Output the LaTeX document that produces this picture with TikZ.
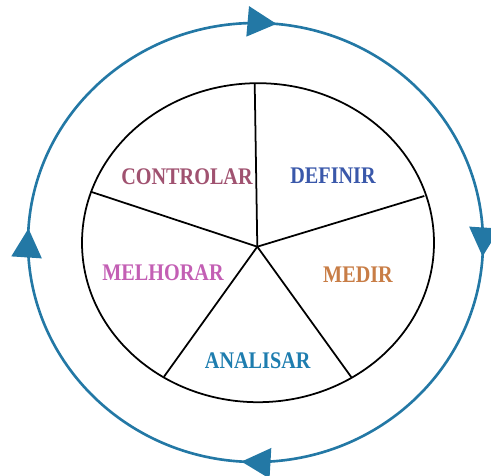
\documentclass[tikz,border=0pt]{standalone}
\usepackage{fontspec}
\setmainfont{Liberation Serif}
\usepackage{xcolor}
\usepackage{graphicx}
\usetikzlibrary{arrows.meta,decorations.markings}
\definecolor{cycleblue}{RGB}{35,120,165}
\definecolor{ctrlcol}{RGB}{160,82,112}
\definecolor{defcol}{RGB}{58,88,170}
\definecolor{melcol}{RGB}{195,95,180}
\definecolor{medcol}{RGB}{200,125,70}
\definecolor{anacol}{RGB}{30,125,175}
\newcommand{\phasetext}[1]{\scalebox{1}[1.18]{#1}}

\begin{document}
\begin{tikzpicture}[x=0.02cm, y=0.02cm,
  phase/.style={font=\bfseries\fontsize{11.5}{12}\selectfont, inner sep=0pt},
  spoke/.style={line width=1pt, black},
  cycle/.style={line width=1.5pt, color=cycleblue, postaction={decorate},
    decoration={markings,
      mark=at position 0.015 with {\arrow{Triangle[length=0.58cm,width=0.6cm]}},
      mark=at position 0.26 with {\arrow{Triangle[length=0.58cm,width=0.6cm]}},
      mark=at position 0.51 with {\arrow{Triangle[length=0.58cm,width=0.6cm]}},
      mark=at position 0.76 with {\arrow{Triangle[length=0.58cm,width=0.6cm]}}}}
]
\useasboundingbox (0,0) rectangle (491,476);
% outer cycle, clockwise
\draw[cycle] (255.5,453) arc[start angle=90, end angle=-270, x radius=227.5, y radius=219.5];
% inner pie
\draw[line width=1pt] (258,233.3) ellipse[x radius=176, y radius=159.5];
\coordinate (hub) at (257.3,229.3);
\coordinate (eTop) at (254.7,392.7);
\coordinate (eRight) at (424.3,280);
\coordinate (eLowR) at (351.7,98.3);
\coordinate (eLowL) at (164,99.3);
\coordinate (eLeft) at (90.7,284.3);
\draw[spoke] (hub)--(eTop);\draw[spoke] (hub)--(eRight);\draw[spoke] (hub)--(eLowR);
\draw[spoke] (hub)--(eLowL);\draw[spoke] (hub)--(eLeft);
% phase labels
\node[phase, text=ctrlcol] (ctrl) at (187,299.3) {\phasetext{CONTROLAR}};
\node[phase, text=defcol]  (def)  at (333,300.3) {\phasetext{DEFINIR}};
\node[phase, text=melcol]  (mel)  at (163,203)   {\phasetext{MELHORAR}};
\node[phase, text=medcol]  (med)  at (358,201)   {\phasetext{MEDIR}};
\node[phase, text=anacol]  (ana)  at (257.7,115) {\phasetext{ANALISAR}};
\end{tikzpicture}
\end{document}
